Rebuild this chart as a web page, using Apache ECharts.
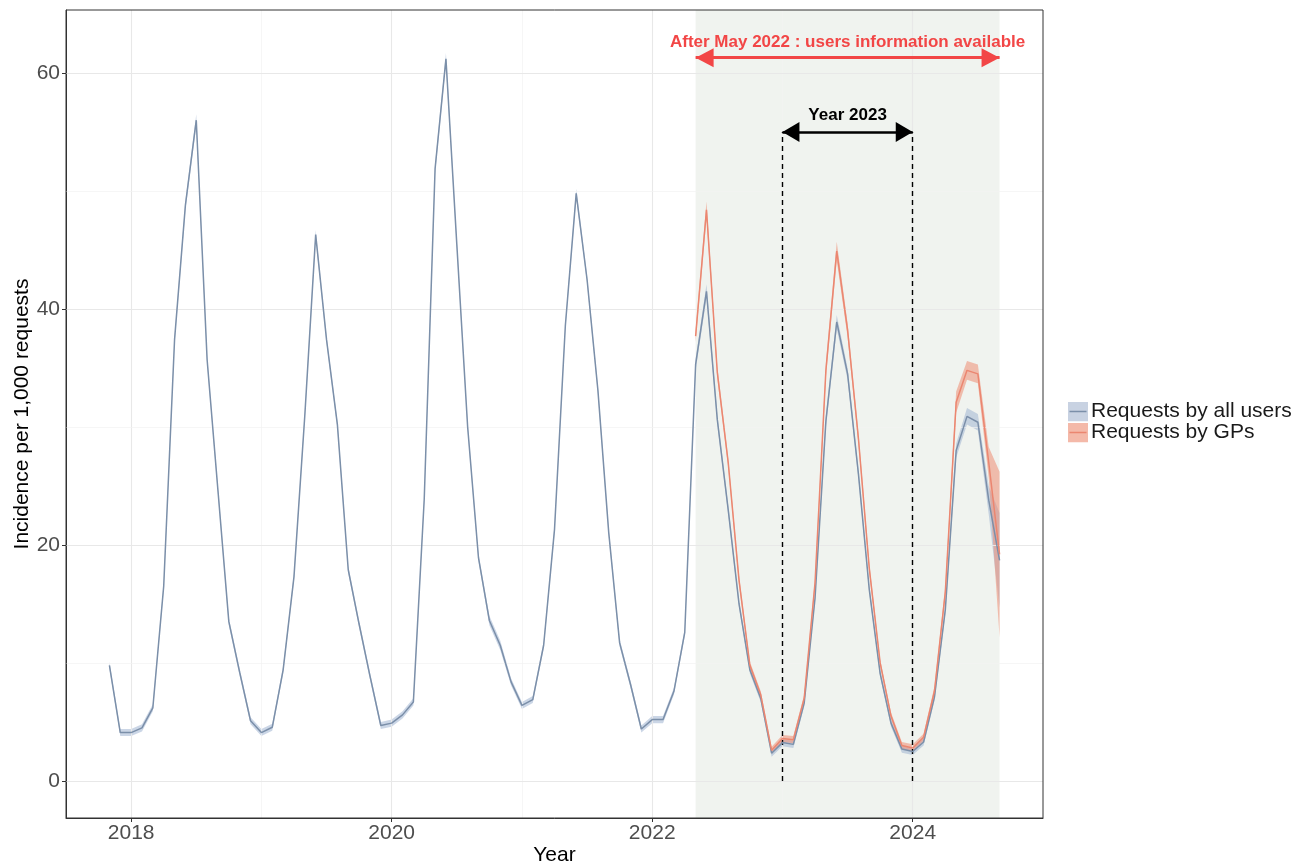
<!DOCTYPE html>
<html>
<head>
<meta charset="utf-8">
<script src="https://cdn.jsdelivr.net/npm/echarts@6/dist/echarts.min.js"></script>
<style>
  html, body { margin: 0; padding: 0; background: #ffffff; }
  #chart { width: 1314px; height: 864px; }
</style>
</head>
<body>
<div id="chart"></div>
<script>
// Monthly series, first observation November 2017
const firstYear = 2017;
const firstMonth = 11;

// Incidence per 1,000 requests, all users (Nov 2017 .. Sep 2024)
const allUsers = [
  9.8, 4.1,
  4.1, 4.5, 6.2, 16.5, 37.4, 48.8, 56.0, 35.7, 24.6, 13.5, 9.2, 5.1,
  4.1, 4.55, 9.4, 17.3, 31.0, 46.3, 37.4, 30.2, 17.9, 13.3, 8.9, 4.7,
  4.9, 5.6, 6.7, 23.9, 51.9, 61.2, 45.5, 30.0, 18.9, 13.6, 11.5, 8.4,
  6.4, 6.9, 11.5, 21.3, 38.6, 49.8, 42.5, 33.1, 21.0, 11.7, 8.2, 4.4,
  5.2, 5.2, 7.6, 12.6, 35.3, 41.5, 30.6, 23.0, 15.0, 9.4, 7.0, 2.35,
  3.25, 3.1, 6.6, 15.5, 30.5, 38.9, 34.5, 26.0, 16.2, 9.1, 4.9, 2.7,
  2.5, 3.3, 7.1, 14.5, 28.0, 30.9, 30.4, 23.8, 18.7
];
// Half-width of the confidence band, all users
const allUsersCI = [
  0.3, 0.3,
  0.3, 0.3, 0.3, 0.3, 0.3, 0.4, 0.5, 0.3, 0.3, 0.3, 0.3, 0.3,
  0.3, 0.3, 0.3, 0.3, 0.3, 0.4, 0.3, 0.3, 0.3, 0.3, 0.3, 0.3,
  0.3, 0.3, 0.3, 0.3, 0.4, 0.5, 0.3, 0.3, 0.3, 0.4, 0.4, 0.3,
  0.3, 0.3, 0.3, 0.3, 0.3, 0.4, 0.3, 0.3, 0.3, 0.3, 0.3, 0.3,
  0.3, 0.3, 0.3, 0.3, 0.5, 0.6, 0.4, 0.4, 0.3, 0.3, 0.3, 0.3,
  0.3, 0.3, 0.3, 0.3, 0.5, 0.6, 0.5, 0.4, 0.3, 0.3, 0.3, 0.3,
  0.3, 0.3, 0.3, 0.4, 0.6, 0.7, 0.7, 1.2, 4.0
];

// Requests by GPs, available from May 2022 (index 54 of the monthly sequence)
const gpStartIndex = 54;
const gps = [
  37.7, 48.4, 34.6, 27.0, 17.0, 9.8, 7.3, 2.6,
  3.6, 3.5, 7.0, 16.8, 34.8, 44.9, 38.2, 29.0, 18.0, 10.0, 5.5, 3.0,
  2.8, 3.7, 7.6, 16.0, 32.1, 34.8, 34.5, 27.0, 19.2
];
const gpsCI = [
  0.5, 0.7, 0.5, 0.4, 0.4, 0.3, 0.3, 0.3,
  0.3, 0.3, 0.3, 0.4, 0.6, 0.8, 0.6, 0.5, 0.4, 0.3, 0.3, 0.3,
  0.3, 0.3, 0.4, 0.5, 0.9, 0.8, 0.8, 1.3, 7.0
];

const xTicks = [2018, 2020, 2022, 2024];
const xMinorGrid = [2019, 2021, 2023];
const yTicks = [0, 20, 40, 60];
const yMinorGrid = [10, 30, 50];

const infoStart = 2022 + 4 / 12;   // May 2022
const infoEnd = 2024 + 8 / 12;     // September 2024
const infoText = 'After May 2022 : users information available';
const yearText = 'Year 2023';

const colAll = '#7b8fa9';
const colAllFill = 'rgba(160,180,210,0.55)';
const colGP = '#eb8670';
const colGPFill = 'rgba(238,140,115,0.55)';
const colInfo = '#f24646';
const font = '"Liberation Sans", Arial, Helvetica, sans-serif';

// decimal year for each monthly observation
const monthPos = allUsers.map((_, i) => firstYear + (firstMonth - 1 + i) / 12);
const gpPos = monthPos.slice(gpStartIndex, gpStartIndex + gps.length);

function ribbon(name, xs, ys, ci, fill) {
  const rows = xs.map((x, i) => [x, ys[i] - ci[i], ys[i] + ci[i]]);
  return {
    type: 'custom',
    name: name,
    silent: true,
    z: 4,
    clip: true,
    encode: { x: 0, y: [1, 2] },
    data: rows,
    renderItem: function (params, api) {
      if (params.dataIndex !== 0) return null;
      const upper = rows.map(r => api.coord([r[0], r[2]]));
      const lower = rows.slice().reverse().map(r => api.coord([r[0], r[1]]));
      return {
        type: 'polygon',
        shape: { points: upper.concat(lower) },
        style: { fill: fill, stroke: null }
      };
    }
  };
}

function legendIcon(fill, stroke) {
  const svg = "<svg xmlns='http://www.w3.org/2000/svg' width='20' height='20'>" +
    "<rect width='20' height='20' fill='" + fill + "'/>" +
    "<line x1='1.5' y1='10' x2='18.5' y2='10' stroke='" + stroke + "' stroke-width='1.4'/></svg>";
  return 'image://data:image/svg+xml;charset=utf-8,' + encodeURIComponent(svg);
}

const majorGrid = { type: 'solid', color: '#e8e8e8', width: 1.1 };
const minorGrid = { type: 'solid', color: '#f2f2f2', width: 0.7 };
const gridLines = [];
xTicks.forEach(v => gridLines.push({ xAxis: v, lineStyle: majorGrid }));
xMinorGrid.forEach(v => gridLines.push({ xAxis: v, lineStyle: minorGrid }));
yTicks.forEach(v => gridLines.push({ yAxis: v, lineStyle: majorGrid }));
yMinorGrid.forEach(v => gridLines.push({ yAxis: v, lineStyle: minorGrid }));

const chart = echarts.init(document.getElementById('chart'), null, { renderer: 'canvas' });

chart.setOption({
  animation: false,
  backgroundColor: '#ffffff',
  textStyle: { fontFamily: font },
  grid: {
    left: 66, right: 271, top: 10, bottom: 46,
    outerBoundsMode: 'none',
    containLabel: false,
    show: true, borderColor: '#333333', borderWidth: 1, backgroundColor: 'transparent',
    z: 20
  },
  xAxis: {
    type: 'value',
    min: 2017.5,
    max: 2025.0,
    splitLine: { show: false },
    axisLine: { show: true, onZero: false, lineStyle: { color: '#333333', width: 1 } },
    axisTick: { show: true, customValues: xTicks, length: 4, lineStyle: { color: '#333333' } },
    axisLabel: { customValues: xTicks, formatter: v => String(v), fontSize: 21, color: '#4d4d4d', margin: 5, fontFamily: font },
    name: 'Year',
    nameLocation: 'middle',
    nameGap: 27,
    nameMoveOverlap: false,
    nameTextStyle: { fontSize: 21, color: '#000000', fontFamily: font }
  },
  yAxis: {
    type: 'value',
    min: -3.14,
    max: 65.34,
    splitLine: { show: false },
    axisLine: { show: true, onZero: false, lineStyle: { color: '#333333', width: 1 } },
    axisTick: { show: true, customValues: yTicks, length: 4, lineStyle: { color: '#333333' } },
    axisLabel: { customValues: yTicks, formatter: v => String(v), fontSize: 21, color: '#4d4d4d', margin: 6, fontFamily: font },
    name: 'Incidence per 1,000 requests',
    nameLocation: 'middle',
    nameGap: 33,
    nameMoveOverlap: false,
    nameTextStyle: { fontSize: 21, color: '#000000', fontFamily: font }
  },
  legend: {
    orient: 'vertical',
    left: 1063,
    top: 396,
    itemWidth: 20,
    itemHeight: 20,
    itemGap: 0,
    selectedMode: false,
    textStyle: { fontSize: 21, color: '#1a1a1a', fontFamily: font, padding: [0, 0, 0, -2] },
    data: [
      { name: 'Requests by all users', icon: legendIcon('#c8d2e2', colAll) },
      { name: 'Requests by GPs', icon: legendIcon('#f4b9a9', colGP) }
    ]
  },
  series: [
    {
      // panel grid lines
      type: 'line', name: 'grid', data: [], silent: true, z: 1,
      markLine: { silent: true, symbol: 'none', label: { show: false }, animation: false, data: gridLines }
    },
    {
      // period with user information
      type: 'line', name: 'period', data: [], silent: true, z: 2,
      markArea: {
        silent: true,
        itemStyle: { color: 'rgba(212,220,207,0.34)' },
        data: [[{ xAxis: infoStart }, { xAxis: infoEnd }]]
      }
    },
    ribbon('all users band', monthPos, allUsers, allUsersCI, colAllFill),
    ribbon('GPs band', gpPos, gps, gpsCI, colGPFill),
    {
      type: 'line', name: 'Requests by all users',
      data: monthPos.map((x, i) => [x, allUsers[i]]),
      symbol: 'none', showSymbol: false, z: 6,
      lineStyle: { color: colAll, width: 1.5 }, itemStyle: { color: colAll }
    },
    {
      type: 'line', name: 'Requests by GPs',
      data: gpPos.map((x, i) => [x, gps[i]]),
      symbol: 'none', showSymbol: false, z: 7,
      lineStyle: { color: colGP, width: 1.5 }, itemStyle: { color: colGP }
    },
    {
      // annotations: year 2023 bounds and arrows
      type: 'line', name: 'annotations', data: [], silent: true, z: 10,
      markLine: {
        silent: true,
        animation: false,
        label: { show: false },
        data: [
          [{ coord: [2023, 0], symbol: 'none' }, { coord: [2023, 55], symbol: 'none' }],
          [{ coord: [2024, 0], symbol: 'none' }, { coord: [2024, 55], symbol: 'none' }],
          [
            { coord: [2023, 55], symbol: 'triangle', symbolSize: [20, 17], symbolOffset: [0, '50%'],
              lineStyle: { type: 'solid', color: '#000000', width: 2.6 }, itemStyle: { color: '#000000' } },
            { coord: [2024, 55], symbol: 'triangle', symbolSize: [20, 17], symbolOffset: [0, '50%'] }
          ],
          [
            { coord: [infoStart, 61.3], symbol: 'triangle', symbolSize: [19, 18], symbolOffset: [0, '50%'],
              lineStyle: { type: 'solid', color: colInfo, width: 3.2 }, itemStyle: { color: colInfo } },
            { coord: [infoEnd, 61.3], symbol: 'triangle', symbolSize: [19, 18], symbolOffset: [0, '50%'] }
          ]
        ],
        lineStyle: { type: [5, 4], color: '#000000', width: 1.4 }
      },
      markPoint: {
        silent: true,
        animation: false,
        symbol: 'rect',
        symbolSize: 1,
        itemStyle: { color: 'rgba(0,0,0,0)' },
        data: [
          {
            coord: [(infoStart + infoEnd) / 2, 62.6],
            label: { show: true, position: 'inside', formatter: infoText, color: colInfo,
                     fontWeight: 'bold', fontSize: 17, fontFamily: font }
          },
          {
            coord: [2023.5, 56.4],
            label: { show: true, position: 'inside', formatter: yearText, color: '#000000',
                     fontWeight: 'bold', fontSize: 17, fontFamily: font }
          }
        ]
      }
    }
  ]
});
</script>
</body>
</html>
